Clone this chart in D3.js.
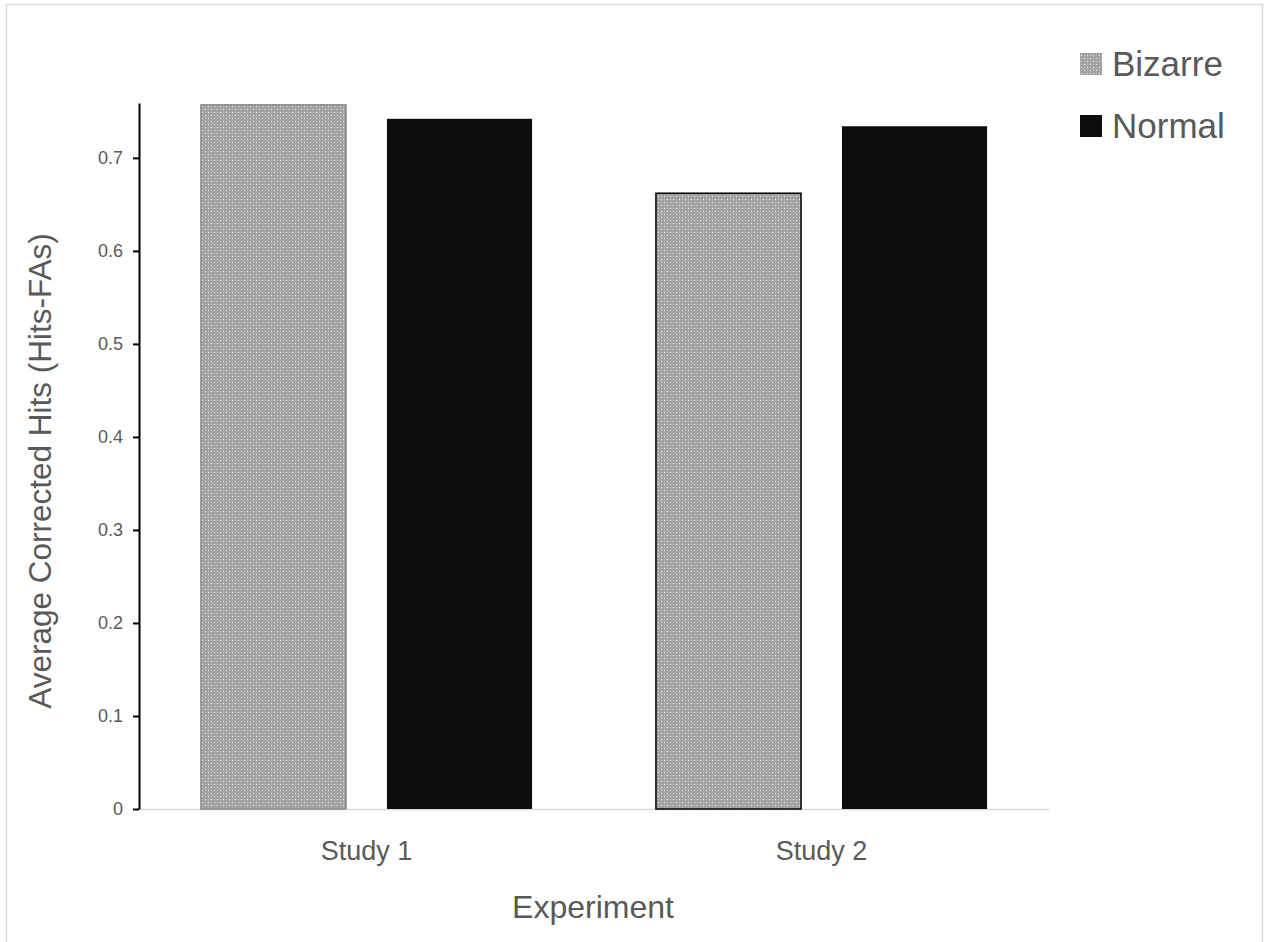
<!DOCTYPE html>
<html><head><meta charset="utf-8">
<script src="https://cdn.jsdelivr.net/npm/d3@7"></script>
<style>body{margin:0;background:#fff}svg{display:block}text{font-family:"Liberation Sans",Arial,sans-serif;fill:#595959}</style>
</head><body>
<svg id="c" width="1265" height="942"></svg>
<script>
const categories = ["Study 1", "Study 2"];
const seriesNames = ["Bizarre", "Normal"];
const bizarre = [0.757, 0.662];
const normal = [0.742, 0.734];
const yTicks = [0, 0.1, 0.2, 0.3, 0.4, 0.5, 0.6, 0.7];

const svg = d3.select("#c");
const defs = svg.append("defs");
const pat = defs.append("pattern").attr("id","dots").attr("patternUnits","userSpaceOnUse")
  .attr("width",6).attr("height",6);
pat.append("rect").attr("width",6).attr("height",6).attr("fill","#a2a2a2");
pat.append("rect").attr("x",1).attr("y",1).attr("width",1).attr("height",1).attr("fill","#eeeeee");
pat.append("rect").attr("x",4).attr("y",4).attr("width",1).attr("height",1).attr("fill","#eeeeee");
pat.append("rect").attr("x",4).attr("y",1).attr("width",1).attr("height",1).attr("fill","#c6c6c6");
pat.append("rect").attr("x",1).attr("y",4).attr("width",1).attr("height",1).attr("fill","#c6c6c6");

svg.append("rect").attr("x",6.5).attr("y",4.5).attr("width",1256).attr("height",950)
  .attr("fill","none").attr("stroke","#d9d9d9").attr("stroke-width",1.5);

const x0 = 139, x1 = 1049, yBottom = 809, yTop = 103;
const x = d3.scaleBand().domain(categories).range([x0, x1]);
const xs = d3.scaleBand().domain(seriesNames).range([0, x.bandwidth()]).paddingInner(0.22).paddingOuter(0.333);
const y = d3.scaleLinear().domain([0, 0.759]).range([yBottom, yTop]);

// baseline
svg.append("line").attr("x1",x0).attr("x2",x1).attr("y1",yBottom+0.5).attr("y2",yBottom+0.5)
  .attr("stroke","#d9d9d9").attr("stroke-width",1.5);

const data = categories.map((c,i)=>({cat:c, vals:[{s:"Bizarre",v:bizarre[i]},{s:"Normal",v:normal[i]}]}));
const g = svg.append("g");
data.forEach((d,ci)=>{
  d.vals.forEach(b=>{
    g.append("rect")
      .attr("x", x(d.cat)+xs(b.s)).attr("width", xs.bandwidth())
      .attr("y", y(b.v)).attr("height", y(0)-y(b.v))
      .attr("fill", b.s==="Bizarre" ? "url(#dots)" : "#0d0d0d")
      .attr("stroke", b.s==="Bizarre" ? (ci===0 ? "#8a8a8a" : "#000") : "none")
      .attr("stroke-width", 1.5);
  });
});

// y axis
const ya = svg.append("g").attr("transform",`translate(${x0},0)`)
  .call(d3.axisLeft(y).tickValues(yTicks).tickFormat(d=>d===0?"0":d3.format(".1f")(d)).tickSize(6).tickSizeOuter(0).tickPadding(10));
ya.select(".domain").attr("stroke","#000").attr("stroke-width",2);
ya.selectAll(".tick line").attr("stroke","#000").attr("stroke-width",2);
ya.selectAll(".tick text").style("font-size","18px").attr("fill","#595959");

// x labels
svg.append("g").selectAll("text").data(categories).join("text")
  .attr("x", d=>x(d)+x.bandwidth()/2).attr("y", 860)
  .attr("text-anchor","middle").style("font-size","27px").text(d=>d);

svg.append("text").attr("x", 593).attr("y", 918).attr("text-anchor","middle")
  .style("font-size","32px").text("Experiment");

svg.append("text").attr("transform","translate(51,471) rotate(-90)").attr("text-anchor","middle")
  .style("font-size","31.5px").text("Average Corrected Hits (Hits-FAs)");

// legend
const leg = svg.append("g");
seriesNames.forEach((s,i)=>{
  const yy = 53 + i*62;
  leg.append("rect").attr("x",1080).attr("y",yy).attr("width",22).attr("height",22)
    .attr("fill", s==="Bizarre" ? "url(#dots)" : "#0d0d0d");
  leg.append("text").attr("x",1112).attr("y",yy+23).style("font-size","35px").text(s);
});
</script>
</body></html>
